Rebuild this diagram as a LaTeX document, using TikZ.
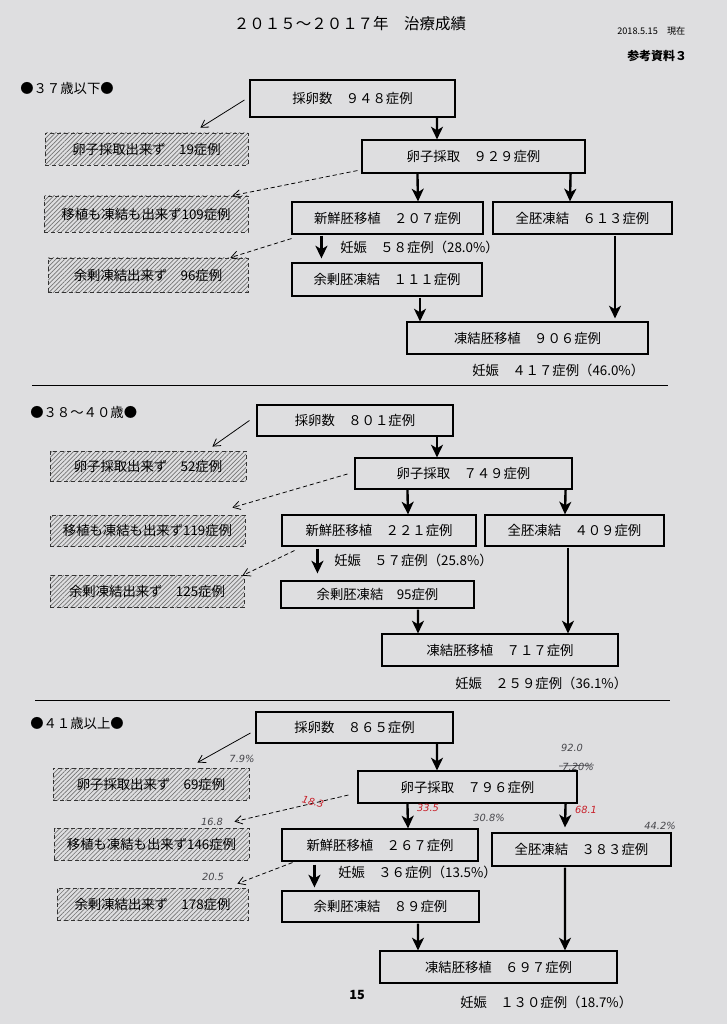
\documentclass[tikz,border=0pt]{standalone}
\usepackage{fontspec}
\setmainfont{Noto Sans CJK JP}
\newfontfamily\handfont{DejaVu Sans}
\usepackage{tikz}
\usetikzlibrary{arrows.meta, positioning, calc, patterns.meta}
\definecolor{paper}{RGB}{222,222,224}
\definecolor{pen}{RGB}{70,70,75}
\definecolor{redpen}{RGB}{200,30,40}
\newcommand{\bodyfont}{\fontsize{9.5}{11}\selectfont}
\tikzset{
  box/.style={rectangle, draw=black, line width=0.8pt, inner sep=0pt,
    font=\bodyfont},
  hbox/.style={rectangle, draw=black!80, densely dashed, line width=0.6pt,
    pattern={Lines[angle=45,distance=2.2pt,line width=0.5pt]},
    pattern color=black!55, inner sep=0pt, font=\bodyfont},
  sz/.style 2 args={minimum width=#1*0.025cm, minimum height=#2*0.025cm},
  arrow/.style={-{Stealth[length=9pt,width=8.5pt,inset=2.5pt]}, line width=1.7pt},
  thinarrow/.style={-{Straight Barb[length=5pt,width=6pt]}, line width=0.55pt},
  dasharrow/.style={-{Straight Barb[length=5pt,width=6pt]}, line width=0.55pt,
    densely dashed},
  preg/.style={anchor=west, inner sep=0pt, font=\bodyfont},
  agelabel/.style={anchor=west, inner sep=0pt, font=\bodyfont},
  note/.style={inner sep=0pt, font=\handfont\itshape\fontsize{7}{8}\selectfont,
    text=pen},
  rednote/.style={note, text=redpen},
  sep/.style={line width=0.6pt}
}

\begin{document}
\begin{tikzpicture}[x=0.025cm, y=-0.025cm]
  \fill[paper] (0,0) rectangle (727,1024);
  \useasboundingbox (0,0) rectangle (727,1024);

  % Header
  \node[font=\fontsize{11}{13}\selectfont] (title) at (350,24) {２０１５～２０１７年　治療成績};
  \node[anchor=west, inner sep=0pt, font=\fontsize{6.5}{8}\selectfont] (date) at (617,31) {2018.5.15　現在};
  \node[anchor=west, inner sep=0pt, font=\bfseries\fontsize{8.5}{10}\selectfont] (ref) at (627,56) {参考資料３};

  % ===== 37 and under =====
  \node[agelabel] (s1age) at (20,88) {●３７歳以下●};
  \node[box, sz={205}{37}] (s1samp) at (352.5,98.5) {採卵数　９４８症例};
  \node[hbox, sz={203}{32}] (s1fail) at (146.5,149) {卵子採取出来ず　19症例};
  \node[box, sz={223}{33}] (s1ret) at (473.5,156.5) {卵子採取　９２９症例};
  \node[hbox, sz={204}{36}] (s1none) at (146,214) {移植も凍結も出来ず109症例};
  \node[box, sz={191}{32}] (s1fresh) at (387.5,218) {新鮮胚移植　２０７症例};
  \node[box, sz={179}{32}] (s1all) at (582.5,218) {全胚凍結　６１３症例};
  \node[preg] (s1pf) at (340,247) {妊娠　５８症例（28.0\%）};
  \node[hbox, sz={200}{34}] (s1left) at (148,275) {余剰凍結出来ず　96症例};
  \node[box, sz={190}{33}] (s1surp) at (387,279.5) {余剰胚凍結　１１１症例};
  \node[box, sz={241}{32}] (s1fet) at (527.5,338) {凍結胚移植　９０６症例};
  \node[preg] (s1pt) at (472,370) {妊娠　４１７症例（46.0\%）};

  \draw[thinarrow] ($(s1samp.west)+(-5,1.5)$) -- ($(s1fail.north east)+(-48,-5)$);
  \draw[arrow] ($(s1samp.south)+(84.5,0)$) -- ($(s1ret.north)+(-36.5,0)$);
  \draw[dasharrow] ($(s1ret.south west)+(-4,-3)$) -- ($(s1none.north east)+(-16,0)$);
  \draw[arrow] ($(s1ret.south west)+(56,0)$) -- ($(s1fresh.north)+(30.5,0)$);
  \draw[arrow] ($(s1ret.south east)+(-15,0)$) -- ($(s1all.north)+(-12.5,0)$);
  \draw[arrow] ($(s1fresh.south west)+(30,1)$) -- ($(s1surp.north west)+(30,-4)$);
  \draw[dasharrow] ($(s1fresh.south west)+(0,4)$) -- ($(s1left.north east)+(-18,0)$);
  \draw[arrow] ($(s1surp.south)+(33,1)$) -- ($(s1fet.north)+(-107.5,0)$);
  \draw[arrow] ($(s1all.south)+(32.5,1)$) -- ($(s1fet.north)+(87.5,-3)$);

  \draw[sep] (32,385) -- (668,385);

  % ===== 38 to 40 =====
  \node[agelabel] (s2age) at (30,412) {●３８～４０歳●};
  \node[box, sz={196}{31}] (s2samp) at (355,420.5) {採卵数　８０１症例};
  \node[hbox, sz={196}{30}] (s2fail) at (148,466) {卵子採取出来ず　52症例};
  \node[box, sz={217}{31}] (s2ret) at (463.5,473.5) {卵子採取　７４９症例};
  \node[hbox, sz={195}{31}] (s2none) at (147.5,530.5) {移植も凍結も出来ず119症例};
  \node[box, sz={194}{31}] (s2fresh) at (379,530.5) {新鮮胚移植　２２１症例};
  \node[box, sz={179}{31}] (s2all) at (574.5,530.5) {全胚凍結　４０９症例};
  \node[preg] (s2pf) at (334,560) {妊娠　５７症例（25.8\%）};
  \node[hbox, sz={194}{32}] (s2left) at (147,591) {余剰凍結出来ず　125症例};
  \node[box, sz={193}{27}] (s2surp) at (377.5,594.5) {余剰胚凍結　95症例};
  \node[box, sz={236}{32}] (s2fet) at (500,650) {凍結胚移植　７１７症例};
  \node[preg] (s2pt) at (455,683) {妊娠　２５９症例（36.1\%）};

  \draw[thinarrow] ($(s2samp.west)+(-7,0)$) -- ($(s2fail.north east)+(-34,-4)$);
  \draw[arrow] ($(s2samp.south)+(82,0)$) -- ($(s2ret.north)+(-26.5,0)$);
  \draw[dasharrow] ($(s2ret.west)+(-7,0.5)$) -- ($(s2none.north east)+(-13,-7)$);
  \draw[arrow] ($(s2ret.south west)+(53,0)$) -- ($(s2fresh.north)+(29,0)$);
  \draw[arrow] ($(s2ret.south east)+(-7,0)$) -- ($(s2all.north)+(-9.5,0)$);
  \draw[arrow] ($(s2fresh.south west)+(36,2)$) -- ($(s2surp.north west)+(37,-7)$);
  \draw[dasharrow] ($(s2fresh.south west)+(13,4)$) -- ($(s2left.north east)+(-2,1)$);
  \draw[arrow] ($(s2surp.south)+(40.5,1)$) -- ($(s2fet.north)+(-82,0)$);
  \draw[arrow] ($(s2all.south)+(-6.5,1)$) -- ($(s2fet.north)+(68,0)$);

  \draw[sep] (35,700) -- (670,700);

  % ===== 41 and over =====
  \node[agelabel] (s3age) at (30,723) {●４１歳以上●};
  \node[box, sz={197}{31}] (s3samp) at (354.5,727.5) {採卵数　８６５症例};
  \node[hbox, sz={196}{32}] (s3fail) at (151,784) {卵子採取出来ず　69症例};
  \node[box, sz={219}{32}] (s3ret) at (467.5,787) {卵子採取　７９６症例};
  \node[hbox, sz={195}{32}] (s3none) at (151.5,844) {移植も凍結も出来ず146症例};
  \node[box, sz={196}{32}] (s3fresh) at (380,845) {新鮮胚移植　２６７症例};
  \node[box, sz={179}{33}] (s3all) at (581.5,849.5) {全胚凍結　３８３症例};
  \node[preg] (s3pf) at (338,872) {妊娠　３６症例（13.5\%）};
  \node[hbox, sz={191}{32}] (s3left) at (152.5,904) {余剰凍結出来ず　178症例};
  \node[box, sz={197}{31}] (s3surp) at (380.5,906.5) {余剰胚凍結　８９症例};
  \node[box, sz={237}{32}] (s3fet) at (498.5,967) {凍結胚移植　６９７症例};
  \node[preg] (s3pt) at (460,1002) {妊娠　１３０症例（18.7\%）};

  \draw[thinarrow] ($(s3samp.west)+(-5,5.5)$) -- ($(s3fail.north east)+(-52,-5)$);
  \draw[arrow] ($(s3samp.south)+(82.5,0)$) -- ($(s3ret.north)+(-30.5,0)$);
  \draw[dasharrow] ($(s3ret.west)+(-9,8)$) -- ($(s3none.north east)+(-15,-6)$);
  \draw[arrow] ($(s3ret.south west)+(50,0)$) -- ($(s3fresh.north)+(28,0)$);
  \draw[arrow] ($(s3ret.south east)+(-12,0)$) -- ($(s3all.north)+(-16.5,-5)$);
  \draw[arrow] ($(s3fresh.south west)+(33,3)$) -- ($(s3surp.north west)+(33,-3)$);
  \draw[dasharrow] ($(s3fresh.south west)+(11,1)$) -- ($(s3left.north east)+(-11,-4)$);
  \draw[arrow] ($(s3surp.south)+(37.5,1)$) -- ($(s3fet.north)+(-80.5,0)$);
  \draw[arrow] ($(s3all.south)+(-16.5,1)$) -- ($(s3fet.north)+(66.5,0)$);

  % handwritten notes
  \node[note] (h1) at (242,759) {7.9\%};
  \node[note] (h2) at (572,748) {92.0};
  \node[note] (h3) at (578,767) {7.20\%};
  \draw[pen, line width=0.5pt] ($(h3.west)+(-3,-1)$) -- ($(h3.east)+(0,-2)$);
  \node[rednote, rotate=-15] (h4) at (313,802) {18.3};
  \node[rednote] (h5) at (428,808) {33.5};
  \node[rednote] (h6) at (586,810) {68.1};
  \node[note] (h7) at (489,818) {30.8\%};
  \node[note] (h8) at (212,822) {16.8};
  \node[note] (h9) at (660,826) {44.2\%};
  \node[note] (h10) at (213,877) {20.5};

  % page number
  \node[font=\bfseries\fontsize{9}{11}\selectfont] (page) at (357,995) {15};
\end{tikzpicture}
\end{document}
